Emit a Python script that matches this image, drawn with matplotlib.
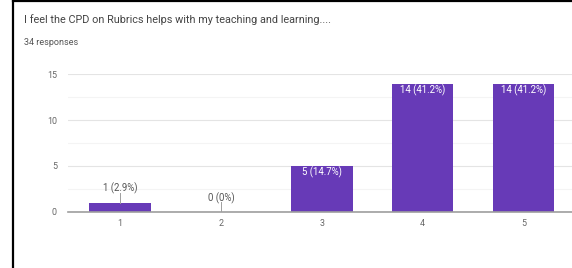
import matplotlib
matplotlib.use("Agg")
import matplotlib.pyplot as plt
from matplotlib.lines import Line2D
from matplotlib.ticker import MultipleLocator

plt.rcParams['font.family'] = ['Roboto', 'DejaVu Sans']

title = "I feel the CPD on Rubrics helps with my teaching and learning...."
subtitle = "34 responses"
categories = ["1", "2", "3", "4", "5"]
counts = [1, 0, 5, 14, 14]
percents = ["2.9%", "0%", "14.7%", "41.2%", "41.2%"]

W, H = 572, 268
fig = plt.figure(figsize=(W / 100, H / 100), dpi=100)
fig.patch.set_facecolor("white")

# plot area in pixel terms
left, right, top, bottom = 68, 572, 74.5, 211.7
ax = fig.add_axes([left / W, 1 - bottom / H, (right - left) / W, (bottom - top) / H])

x = list(range(1, len(categories) + 1))
ax.bar(x, counts, width=0.61, color="#673ab7", zorder=3)

ax.set_xlim(0.485, 5.48)
ax.set_ylim(0, 15)
ax.yaxis.set_major_locator(MultipleLocator(5))
ax.yaxis.set_minor_locator(MultipleLocator(2.5))
ax.grid(axis="y", which="major", color="#e4e4e4", linewidth=0.8, zorder=0)
ax.grid(axis="y", which="minor", color="#f4f4f4", linewidth=0.8, zorder=0)
for s in ["top", "right", "left"]:
    ax.spines[s].set_visible(False)
ax.spines["bottom"].set_color("#9e9e9e")
ax.spines["bottom"].set_linewidth(1.2)
ax.spines["bottom"].set_zorder(4)
ax.tick_params(axis="both", which="both", length=0, labelsize=6.4, colors="#666666")
ax.tick_params(axis="y", pad=8)
ax.tick_params(axis="x", pad=5)
ax.set_xticks(x)
ax.set_xticklabels(categories)

for xi, c, p in zip(x, counts, percents):
    label = f"{c} ({p})"
    if c >= 3:
        ax.text(xi, c - 0.73, label, ha="center", va="center", fontsize=6.9,
                color="white", zorder=5)
    else:
        ax.text(xi, c + 1.52, label, ha="center", va="center", fontsize=6.9,
                color="#555555", zorder=5)
        ax.plot([xi, xi], [c + 1.05, c], color="#9e9e9e", linewidth=0.7, zorder=4)

fig.text(24 / W, 1 - 20 / H, title, ha="left", va="center", fontsize=7.8, color="#444444")
fig.text(24 / W, 1 - 42.7 / H, subtitle, ha="left", va="center", fontsize=6.5, color="#555555")

# black frame from the screenshot
fig.add_artist(Line2D([13 / W, 13 / W], [0, 1 - 1 / H], color="black", linewidth=1.6))
fig.add_artist(Line2D([13 / W, 1], [1 - 1 / H, 1 - 1 / H], color="black", linewidth=1.6))

fig.savefig("out.png", dpi=100)
